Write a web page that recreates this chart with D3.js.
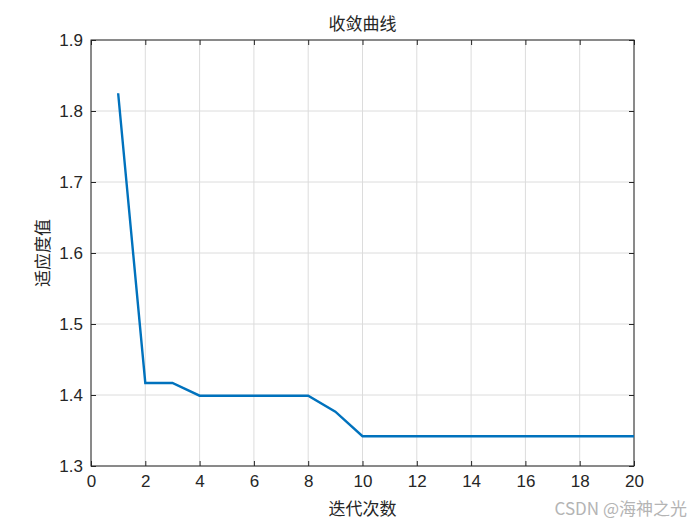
<!DOCTYPE html>
<html>
<head>
<meta charset="utf-8">
<script src="https://cdn.jsdelivr.net/npm/d3@7"></script>
<style>
  body { margin: 0; background: #fff; }
  text { font-family: "Liberation Sans", Arial, sans-serif; }
  .cjk { font-family: "Noto Sans CJK SC", sans-serif; }
</style>
</head>
<body>
<div id="chart"></div>
<script>
var iterations = [1, 2, 3, 4, 5, 6, 7, 8, 9, 10, 11, 12, 13, 14, 15, 16, 17, 18, 19, 20];
var fitness = [1.825, 1.417, 1.417, 1.399, 1.399, 1.399, 1.399, 1.399, 1.3765, 1.342,
               1.342, 1.342, 1.342, 1.342, 1.342, 1.342, 1.342, 1.342, 1.342, 1.342];
var xTicks = [0, 2, 4, 6, 8, 10, 12, 14, 16, 18, 20];
var yTicks = [1.3, 1.4, 1.5, 1.6, 1.7, 1.8, 1.9];

(function() {
    var width = 700, height = 525;
    var mLeft = 91, mTop = 40, mRight = 634, mBottom = 466;

    var svg = d3.select("#chart").append("svg")
        .attr("width", width)
        .attr("height", height);

    var x = d3.scaleLinear().domain([0, 20]).range([mLeft, mRight]);
    var y = d3.scaleLinear().domain([1.3, 1.9]).range([mBottom, mTop]);

    // grid
    svg.append("g").selectAll("line").data(xTicks).enter().append("line")
        .attr("x1", function(d) { return x(d); })
        .attr("x2", function(d) { return x(d); })
        .attr("y1", mTop).attr("y2", mBottom)
        .attr("stroke", "#dcdcdc").attr("stroke-width", 1);
    svg.append("g").selectAll("line").data(yTicks).enter().append("line")
        .attr("y1", function(d) { return y(d); })
        .attr("y2", function(d) { return y(d); })
        .attr("x1", mLeft).attr("x2", mRight)
        .attr("stroke", "#dcdcdc").attr("stroke-width", 1);

    // axes, ticks inward
    function styleAxis(g) {
        g.select(".domain").remove();
        g.selectAll(".tick line").attr("stroke", "#262626");
        g.selectAll(".tick text").attr("fill", "#262626")
            .style("font-size", "17px")
            .style("font-family", "'Liberation Sans', Arial, sans-serif");
    }
    svg.append("g").attr("transform", "translate(0," + mBottom + ")")
        .call(d3.axisBottom(x).tickValues(xTicks).tickSize(-5).tickPadding(9).tickFormat(d3.format("d")))
        .call(styleAxis);
    svg.append("g").attr("transform", "translate(0," + mTop + ")")
        .call(d3.axisTop(x).tickValues(xTicks).tickSize(-5).tickFormat(""))
        .call(styleAxis);
    svg.append("g").attr("transform", "translate(" + mLeft + ",0)")
        .call(d3.axisLeft(y).tickValues(yTicks).tickSize(-5).tickPadding(8).tickFormat(d3.format(".1f")))
        .call(styleAxis);
    svg.append("g").attr("transform", "translate(" + mRight + ",0)")
        .call(d3.axisRight(y).tickValues(yTicks).tickSize(-5).tickFormat(""))
        .call(styleAxis);

    svg.append("rect")
        .attr("x", mLeft).attr("y", mTop)
        .attr("width", mRight - mLeft).attr("height", mBottom - mTop)
        .attr("fill", "none").attr("stroke", "#262626").attr("stroke-width", 1);

    // line
    var line = d3.line()
        .x(function(d, i) { return x(iterations[i]); })
        .y(function(d) { return y(d); });
    svg.append("path").datum(fitness)
        .attr("d", line)
        .attr("fill", "none")
        .attr("stroke", "#0072BD")
        .attr("stroke-width", 2.4);

    // labels
    svg.append("text").attr("class", "cjk")
        .attr("x", (mLeft + mRight) / 2).attr("y", 30)
        .attr("text-anchor", "middle").attr("fill", "#262626")
        .style("font-size", "17px").text("收敛曲线");
    svg.append("text").attr("class", "cjk")
        .attr("x", (mLeft + mRight) / 2).attr("y", 515)
        .attr("text-anchor", "middle").attr("fill", "#262626")
        .style("font-size", "17px").text("迭代次数");
    svg.append("text").attr("class", "cjk")
        .attr("transform", "translate(49," + ((mTop + mBottom) / 2) + ") rotate(-90)")
        .attr("text-anchor", "middle").attr("fill", "#262626")
        .style("font-size", "17px").text("适应度值");

    // watermark
    svg.append("text").attr("class", "cjk")
        .attr("x", 687).attr("y", 515)
        .attr("text-anchor", "end").attr("fill", "#b4b4b4")
        .style("font-size", "17px").text("CSDN @海神之光");
})();
</script>
</body>
</html>
